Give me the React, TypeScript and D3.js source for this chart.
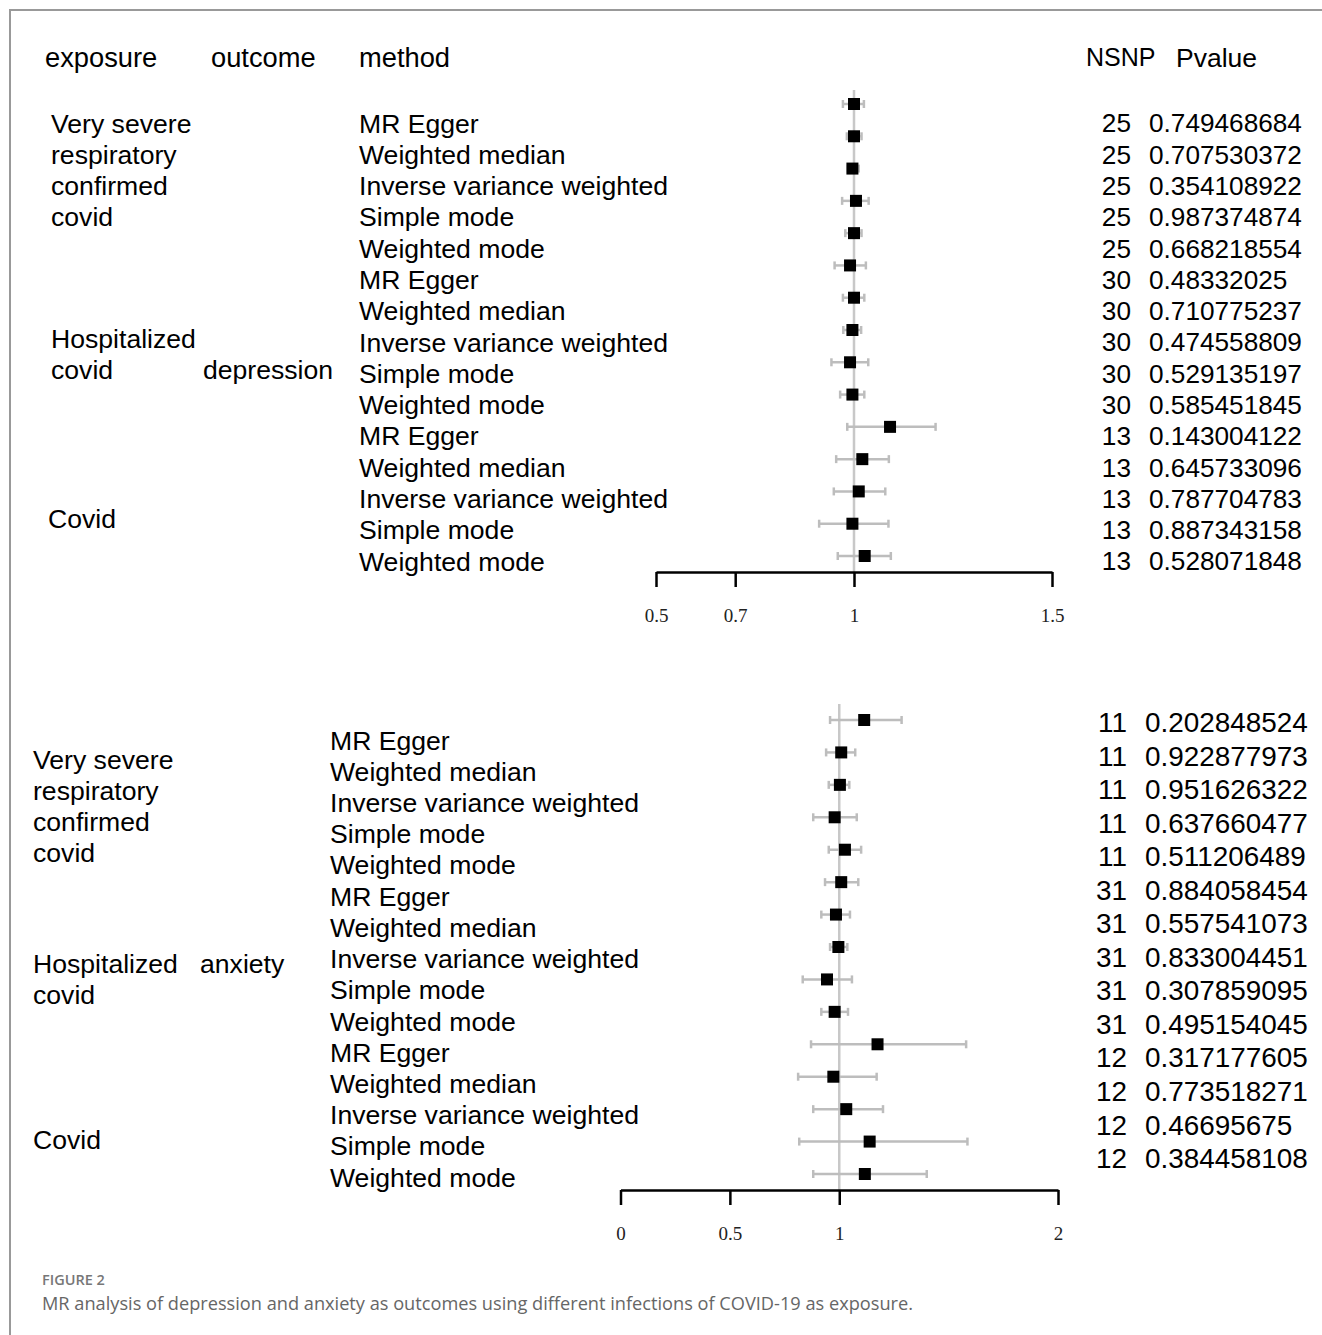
import * as d3 from "d3";
import React, { useEffect, useRef } from "react";

// ---- data ----
const methods = [
  "MR Egger",
  "Weighted median",
  "Inverse variance weighted",
  "Simple mode",
  "Weighted mode",
];

// depression panel
const depExposures = ["Very severe respiratory confirmed covid", "Hospitalized covid", "Covid"];
const depNsnp = [25, 25, 25, 25, 25, 30, 30, 30, 30, 30, 13, 13, 13, 13, 13];
const depP = [
  "0.749468684", "0.707530372", "0.354108922", "0.987374874", "0.668218554",
  "0.48332025", "0.710775237", "0.474558809", "0.529135197", "0.585451845",
  "0.143004122", "0.645733096", "0.787704783", "0.887343158", "0.528071848",
];
const depOr = [1.0, 1.0, 0.996, 1.005, 1.0, 0.99, 1.0, 0.996, 0.99, 0.996, 1.091, 1.021, 1.012, 0.996, 1.027];
const depLo = [0.972, 0.982, 0.985, 0.97, 0.978, 0.951, 0.972, 0.973, 0.943, 0.965, 0.983, 0.955, 0.949, 0.912, 0.959];
const depHi = [1.025, 1.019, 1.012, 1.037, 1.019, 1.03, 1.026, 1.018, 1.036, 1.026, 1.206, 1.088, 1.079, 1.087, 1.093];
const depTicks = [0.5, 0.7, 1, 1.5];

// anxiety panel (the source table only lists 14 NSNP / P rows)
const anxExposures = ["Very severe respiratory confirmed covid", "Hospitalized covid", "Covid"];
const anxNsnp = [11, 11, 11, 11, 11, 31, 31, 31, 31, 31, 12, 12, 12, 12];
const anxP = [
  "0.202848524", "0.922877973", "0.951626322", "0.637660477", "0.511206489",
  "0.884058454", "0.557541073", "0.833004451", "0.307859095", "0.495154045",
  "0.317177605", "0.773518271", "0.46695675", "0.384458108",
];
const anxOr = [1.114, 1.009, 1.003, 0.979, 1.026, 1.009, 0.985, 0.996, 0.944, 0.979, 1.175, 0.973, 1.032, 1.139, 1.117];
const anxLo = [0.958, 0.94, 0.952, 0.881, 0.952, 0.935, 0.918, 0.958, 0.833, 0.918, 0.871, 0.812, 0.881, 0.817, 0.881];
const anxHi = [1.285, 1.073, 1.046, 1.08, 1.1, 1.087, 1.049, 1.037, 1.058, 1.04, 1.58, 1.171, 1.2, 1.586, 1.4];
const anxTicks = [0, 0.5, 1, 2];

const W = 1322;
const H = 1335;
const FONT = "'Liberation Sans', Arial, sans-serif";
const FS = 26.6;

// split "Very severe respiratory confirmed covid" into the wrapped lines used in the figure
const wrap = (s: string) => {
  const w = s.split(" ");
  return w.length > 3 ? [w[0] + " " + w[1], ...w.slice(2)] : w;
};

export default function App() {
  const ref = useRef<SVGSVGElement | null>(null);

  useEffect(() => {
    document.body.style.margin = "0";
    const svg = d3.select(ref.current);
    svg.selectAll("*").remove();
    svg.attr("width", W).attr("height", H).attr("viewBox", `0 0 ${W} ${H}`);

    svg.append("rect").attr("width", W).attr("height", H).attr("fill", "#fff");
    svg.append("path").attr("d", `M${W},10H10V${H}`).attr("fill", "none").attr("stroke", "#999").attr("stroke-width", 2);

    const txt = (x: number, y: number, s: string, anchor = "start", size = FS) =>
      svg.append("text")
        .attr("x", x)
        .attr("y", y + size * 0.36)
        .attr("text-anchor", anchor)
        .attr("font-family", FONT)
        .attr("font-size", size)
        .attr("fill", "#000")
        .text(s);

    const methodRows = d3.range(15).map((i) => methods[i % 5]);

    const drawPanel = (opt: any) => {
      const { or, lo, hi, nsnp, pv, ticks, domain, xr, markY, textY, numY, methodX, refTop, axisY, nsnpX, pX, numSize } = opt;
      const x = d3.scaleLinear().domain(domain).range(xr);
      const ym = d3.scalePoint<number>().domain(d3.range(or.length)).range(markY);
      const yt = d3.scalePoint<number>().domain(d3.range(methodRows.length)).range(textY);
      const yn = d3.scalePoint<number>().domain(d3.range(nsnp.length)).range(numY);

      methodRows.forEach((m, i) => txt(methodX, yt(i)!, m));
      nsnp.forEach((n: number, i: number) => {
        txt(nsnpX, yn(i)!, String(n), "end", numSize);
        txt(pX, yn(i)!, pv[i], "start", numSize);
      });

      const g = svg.append("g");
      g.append("line")
        .attr("x1", x(1)).attr("x2", x(1))
        .attr("y1", refTop).attr("y2", axisY)
        .attr("stroke", "#c8c8c8").attr("stroke-width", 2.5);

      const rows = g.selectAll("g.row").data(or.map((v: number, i: number) => ({ v, lo: lo[i], hi: hi[i], i })))
        .enter().append("g").attr("class", "row")
        .attr("transform", (d: any) => `translate(0,${ym(d.i)})`);
      rows.append("line")
        .attr("x1", (d: any) => x(d.lo)).attr("x2", (d: any) => x(d.hi))
        .attr("stroke", "#bdbdbd").attr("stroke-width", 2.5);
      rows.append("line")
        .attr("x1", (d: any) => x(d.lo)).attr("x2", (d: any) => x(d.lo))
        .attr("y1", -4).attr("y2", 4)
        .attr("stroke", "#bdbdbd").attr("stroke-width", 2.5);
      rows.append("line")
        .attr("x1", (d: any) => x(d.hi)).attr("x2", (d: any) => x(d.hi))
        .attr("y1", -4).attr("y2", 4)
        .attr("stroke", "#bdbdbd").attr("stroke-width", 2.5);
      rows.append("rect")
        .attr("x", (d: any) => x(d.v) - 6).attr("y", -6)
        .attr("width", 12).attr("height", 12)
        .attr("fill", "#000");

      const axis = g.append("g").attr("transform", `translate(0,${axisY})`)
        .call(d3.axisBottom(x).tickValues(ticks).tickSize(15).tickSizeOuter(0).tickFormat(d3.format("")));
      axis.select(".domain").attr("stroke", "#000").attr("stroke-width", 2.5);
      axis.selectAll(".tick line").attr("stroke", "#000").attr("stroke-width", 2.5);
      axis.selectAll(".tick text")
        .attr("y", 37)
        .attr("font-family", "'Liberation Serif', 'Times New Roman', serif")
        .attr("font-size", 19)
        .attr("fill", "#222");
    };

    // ---- top panel: depression ----
    txt(45, 57, "exposure", "start", 27.3);
    txt(211, 57, "outcome", "start", 27.3);
    txt(359, 57, "method", "start", 27.3);
    txt(1086, 57, "NSNP", "start", 25);
    txt(1176, 57, "Pvalue", "start", 26.5);

    wrap(depExposures[0]).forEach((l, i) => txt(51, 123 + i * 31.2, l));
    wrap(depExposures[1]).forEach((l, i) => txt(51, 338 + i * 31.2, l));
    txt(48, 518, depExposures[2]);
    txt(203, 369, "depression");

    drawPanel({
      or: depOr, lo: depLo, hi: depHi, nsnp: depNsnp, pv: depP, ticks: depTicks,
      domain: [0.5, 1.5], xr: [656, 1052],
      markY: [104, 556], textY: [123, 561], numY: [123, 561],
      methodX: 359, refTop: 90, axisY: 572, nsnpX: 1131, pX: 1149, numSize: 26.2,
    });

    // ---- bottom panel: anxiety ----
    wrap(anxExposures[0]).forEach((l, i) => txt(33, 759 + i * 31.2, l));
    wrap(anxExposures[1]).forEach((l, i) => txt(33, 963 + i * 31.2, l));
    txt(33, 1139, anxExposures[2]);
    txt(200, 963, "anxiety");

    drawPanel({
      or: anxOr, lo: anxLo, hi: anxHi, nsnp: anxNsnp, pv: anxP, ticks: anxTicks,
      domain: [0, 2], xr: [620.5, 1058],
      markY: [720, 1174], textY: [740, 1177], numY: [722, 1158],
      methodX: 330, refTop: 704, axisY: 1190, nsnpX: 1127, pX: 1145, numSize: 27.9,
    });

    // caption
    svg.append("text").attr("x", 42).attr("y", 1285).attr("font-family", "'Open Sans', sans-serif")
      .attr("font-size", 14.5).attr("font-weight", 600).attr("fill", "#777").text("FIGURE 2");
    svg.append("text").attr("x", 42).attr("y", 1310).attr("font-family", "'Open Sans', sans-serif")
      .attr("font-size", 18.2).attr("fill", "#666")
      .text("MR analysis of depression and anxiety as outcomes using different infections of COVID-19 as exposure.");
  }, []);

  return <svg ref={ref} style={{ display: "block" }} />;
}
